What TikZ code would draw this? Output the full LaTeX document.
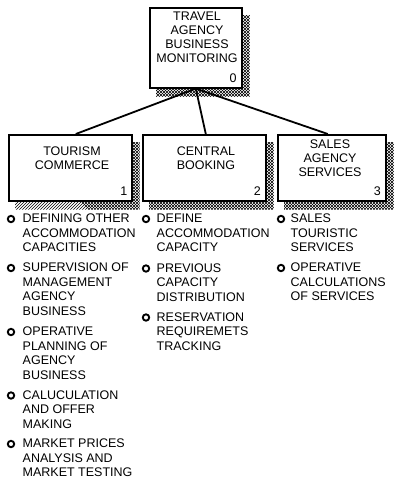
\documentclass[tikz,border=0pt]{standalone}
\usepackage{fontspec}
\setmainfont{Liberation Sans}
\tikzset{
  boxnode/.style={draw, line width=1.6pt, fill=white, inner sep=0pt, anchor=north west},
  hatchline/.style={line width=0.55pt, black},
  boxtxt/.style={font=\fontsize{12.5}{14.2}\selectfont, inner sep=0pt, align=center, anchor=north},
  numtxt/.style={font=\fontsize{12.5}{14.2}\selectfont, inner sep=0pt, anchor=base east},
  itemtxt/.style={font=\fontsize{12.5}{14.4}\selectfont, inner sep=0pt, align=left, anchor=north west},
  bul/.style={circle, draw, line width=1.9pt, minimum size=6.4pt, inner sep=0pt},
  conn/.style={line width=1.8pt}
}
\begin{document}
\begin{tikzpicture}[x=1pt,y=-1pt]
\useasboundingbox (0,0) rectangle (404,485);
% boxes
\node[boxnode, minimum width=92pt, minimum height=80pt] (b0) at (149,7) {};
\node[boxnode, minimum width=123pt, minimum height=66pt] (b1) at (8,134) {};
\node[boxnode, minimum width=123pt, minimum height=66pt] (b2) at (142,134) {};
\node[boxnode, minimum width=108pt, minimum height=66pt] (b3) at (277,134) {};
% shadows: L-shaped strips filled with fine cross-hatching
\foreach \b in {b0,b1,b2,b3}{
  \begin{scope}
    \clip ([yshift=-8pt]\b.north east) rectangle ([xshift=7pt,yshift=-8pt]\b.south east)
          ([xshift=7pt]\b.south west) rectangle ([xshift=7pt,yshift=-8pt]\b.south east);
    \foreach \k in {-120,-117,...,400}{
      \draw[hatchline] (\k,0) -- (\k+220,220);
      \draw[hatchline] (\k,220) -- (\k+220,0);
    }
  \end{scope}
}
% connectors
\draw[conn] (b0.south) -- ([xshift=5.5pt]b1.north);
\draw[conn] (b0.south) -- ([xshift=1.5pt]b2.north);
\draw[conn] (b0.south) -- ([xshift=-4pt]b3.north);
% box texts
\node[boxtxt, font=\fontsize{12.5}{14}\selectfont] (t0) at (197,11.8) {TRAVEL\\AGENCY\\BUSINESS\\MONITORING};
\node[boxtxt] (t1) at (72,146.2) {TOURISM\\COMMERCE};
\node[boxtxt] (t2) at (206,146.8) {CENTRAL\\BOOKING};
\node[boxtxt] (t3) at (330,139.6) {SALES\\AGENCY\\SERVICES};
\node[numtxt] (n0) at (236.8,82) {0};
\node[numtxt] (n1) at (127.5,195.5) {1};
\node[numtxt] (n2) at (261,195.5) {2};
\node[numtxt] (n3) at (381,195.5) {3};
% column 1
\node[bul] (c1a) at (11,219) {};
\node[itemtxt] (i1a) at (22.5,214) {DEFINING OTHER\\ACCOMMODATION\\CAPACITIES};
\node[bul] (c1b) at (11,268) {};
\node[itemtxt] (i1b) at (22.5,263) {SUPERVISION OF\\MANAGEMENT\\AGENCY\\BUSINESS};
\node[bul] (c1c) at (11,332) {};
\node[itemtxt] (i1c) at (22.5,327) {OPERATIVE\\PLANNING OF\\AGENCY\\BUSINESS};
\node[bul] (c1d) at (11,395.5) {};
\node[itemtxt] (i1d) at (22.5,390.5) {CALUCULATION\\AND OFFER\\MAKING};
\node[bul] (c1e) at (11,444) {};
\node[itemtxt] (i1e) at (22.5,439) {MARKET PRICES\\ANALYSIS AND\\MARKET TESTING};
% column 2
\node[bul] (c2a) at (146,219) {};
\node[itemtxt] (i2a) at (156.5,214) {DEFINE\\ACCOMMODATION\\CAPACITY};
\node[bul] (c2b) at (146,268.5) {};
\node[itemtxt] (i2b) at (156.5,263.5) {PREVIOUS\\CAPACITY\\DISTRIBUTION};
\node[bul] (c2c) at (146,317.5) {};
\node[itemtxt] (i2c) at (156.5,312.5) {RESERVATION\\REQUIREMETS\\TRACKING};
% column 3
\node[bul] (c3a) at (281,219) {};
\node[itemtxt] (i3a) at (290.5,214) {SALES\\TOURISTIC\\SERVICES};
\node[bul] (c3b) at (281,268) {};
\node[itemtxt] (i3b) at (290.5,263) {OPERATIVE\\CALCULATIONS\\OF SERVICES};
\end{tikzpicture}
\end{document}
